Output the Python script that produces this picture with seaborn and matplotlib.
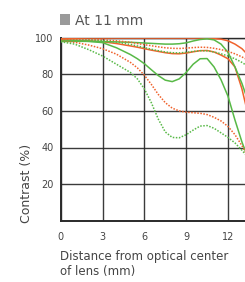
import numpy as np
import pandas as pd
import matplotlib
matplotlib.use("Agg")
import matplotlib.pyplot as plt
from matplotlib.patches import Rectangle
import seaborn as sns

# ---- data ----
distance = [0, 1, 2, 3, 4, 5, 5.5, 6, 6.5, 7, 7.5, 8, 8.5, 9, 9.5, 10, 10.5, 11, 11.5, 12, 12.5, 13, 13.5]

orange_solid_1 = [99.5, 99.7, 99.8, 99.8, 99.8, 99.8, 99.8, 99.8, 99.8, 99.8, 99.8, 99.8, 99.8, 99.8, 99.8, 99.8, 99.7, 99.5, 99.2, 98.3, 96.5, 94.0, 90.0]
orange_solid_2 = [98.7, 98.6, 98.3, 97.8, 96.8, 95.5, 94.8, 94.0, 93.2, 92.5, 91.8, 91.3, 91.2, 91.6, 92.3, 92.9, 93.0, 92.2, 90.5, 88.5, 84.0, 72.0, 56.0]
green_solid_1 = [98.0, 98.0, 98.0, 97.9, 97.7, 97.5, 97.3, 97.1, 96.9, 96.7, 96.5, 96.5, 96.7, 97.2, 98.2, 99.0, 99.4, 98.8, 96.5, 92.0, 84.0, 75.0, 64.0]
green_solid_2 = [98.5, 98.4, 98.0, 97.3, 94.5, 90.8, 88.5, 85.8, 82.5, 79.3, 76.8, 76.0, 77.5, 81.0, 85.5, 88.5, 88.6, 84.0, 77.0, 68.0, 55.0, 43.0, 33.0]
orange_dotted_1 = [98.8, 99.0, 99.0, 98.8, 98.3, 97.5, 96.8, 96.2, 95.6, 95.0, 94.5, 94.2, 94.1, 94.3, 94.6, 94.8, 94.7, 94.2, 93.5, 92.5, 91.2, 89.5, 87.5]
green_dotted_1 = [98.2, 98.5, 98.6, 98.3, 97.6, 96.3, 95.5, 94.6, 93.7, 92.9, 92.2, 91.8, 91.7, 92.0, 92.5, 92.9, 92.8, 92.2, 91.2, 90.0, 88.5, 86.5, 84.0]
orange_dotted_2 = [98.3, 97.5, 96.0, 94.0, 91.0, 86.5, 83.5, 79.5, 74.5, 69.0, 64.5, 61.5, 60.0, 59.3, 59.0, 58.7, 58.0, 56.5, 54.5, 51.5, 47.0, 41.0, 34.0]
green_dotted_2 = [97.8, 96.5, 93.5, 90.0, 85.5, 81.0, 77.5, 72.0, 64.5, 55.5, 48.5, 45.5, 45.3, 47.0, 49.5, 51.7, 52.0, 50.5, 48.0, 45.5, 42.5, 38.5, 34.0]

x_ticks = [0, 3, 6, 9, 12]
y_ticks = [20, 40, 60, 80, 100]
title_text = "At 11 mm"
y_label = "Contrast (%)"
x_label_lines = ["Distance from optical center", "of lens (mm)"]

series = {
    "os1": orange_solid_1, "os2": orange_solid_2,
    "gs1": green_solid_1, "gs2": green_solid_2,
    "od1": orange_dotted_1, "od2": orange_dotted_2,
    "gd1": green_dotted_1, "gd2": green_dotted_2,
}
rows = []
for name, vals in series.items():
    for xv, yv in zip(distance, vals):
        rows.append({"x": xv, "y": yv, "curve": name})
df = pd.DataFrame(rows)

ORANGE = "#f0622c"
GREEN = "#58b947"
palette = {k: (ORANGE if k.startswith("o") else GREEN) for k in series}
dashes = {k: ("" if k[1] == "s" else (1, 1)) for k in series}

sns.set_style("white")
plt.rcParams["font.family"] = ["DejaVu Sans"]

W, H = 245, 282
fig = plt.figure(figsize=(W / 100, H / 100), dpi=100)
ax_left, ax_right = 60.7, 245.0
ax_top, ax_bot = 37.7, 220.7
ax = fig.add_axes([ax_left / W, 1 - ax_bot / H, (ax_right - ax_left) / W, (ax_bot - ax_top) / H])

sns.lineplot(data=df, x="x", y="y", hue="curve", style="curve", palette=palette,
             dashes=dashes, legend=False, sort=False, linewidth=1.1, ax=ax, zorder=3)

x_max = (ax_right - ax_left) / ((228.0 - 60.7) / 12.0)
ax.set_xlim(0, x_max)
ax.set_ylim(0, 100)
ax.set_xticks(x_ticks)
ax.set_yticks(y_ticks)
ax.set_xticklabels([str(t) for t in x_ticks])
ax.set_yticklabels([str(t) for t in y_ticks])
ax.tick_params(axis="both", length=0, labelsize=7, labelcolor="#444444")
ax.tick_params(axis="x", pad=8)
ax.tick_params(axis="y", pad=5)
ax.set_xlabel("")
ax.set_ylabel("")
ax.grid(True, color="#262626", linewidth=1.0, alpha=0.9, zorder=1)
ax.set_axisbelow(True)
for s in ["left", "bottom"]:
    ax.spines[s].set_color("#2a2a2a")
    ax.spines[s].set_linewidth(1.4)
ax.spines["top"].set_color("#2a2a2a")
ax.spines["top"].set_linewidth(1.0)
ax.spines["right"].set_visible(False)
ax.set_facecolor("white")

# title with gray square
fig.patches.append(Rectangle((60 / W, 1 - 25 / H), 10 / W, 11 / H, transform=fig.transFigure,
                             facecolor="#9a9a9a", edgecolor="none"))
fig.text(75 / W, 1 - 25 / H, title_text, fontsize=10, color="#555555", va="baseline", ha="left")

fig.text(26.5 / W, 1 - 183 / H, y_label, rotation=90, fontsize=9, color="#444444",
         ha="center", va="center")
fig.text(60 / W, 1 - 260 / H, x_label_lines[0], fontsize=8.5, color="#444444", ha="left", va="baseline")
fig.text(60 / W, 1 - 274.5 / H, x_label_lines[1], fontsize=8.5, color="#444444", ha="left", va="baseline")

fig.savefig("out.png", dpi=100, facecolor="white")
